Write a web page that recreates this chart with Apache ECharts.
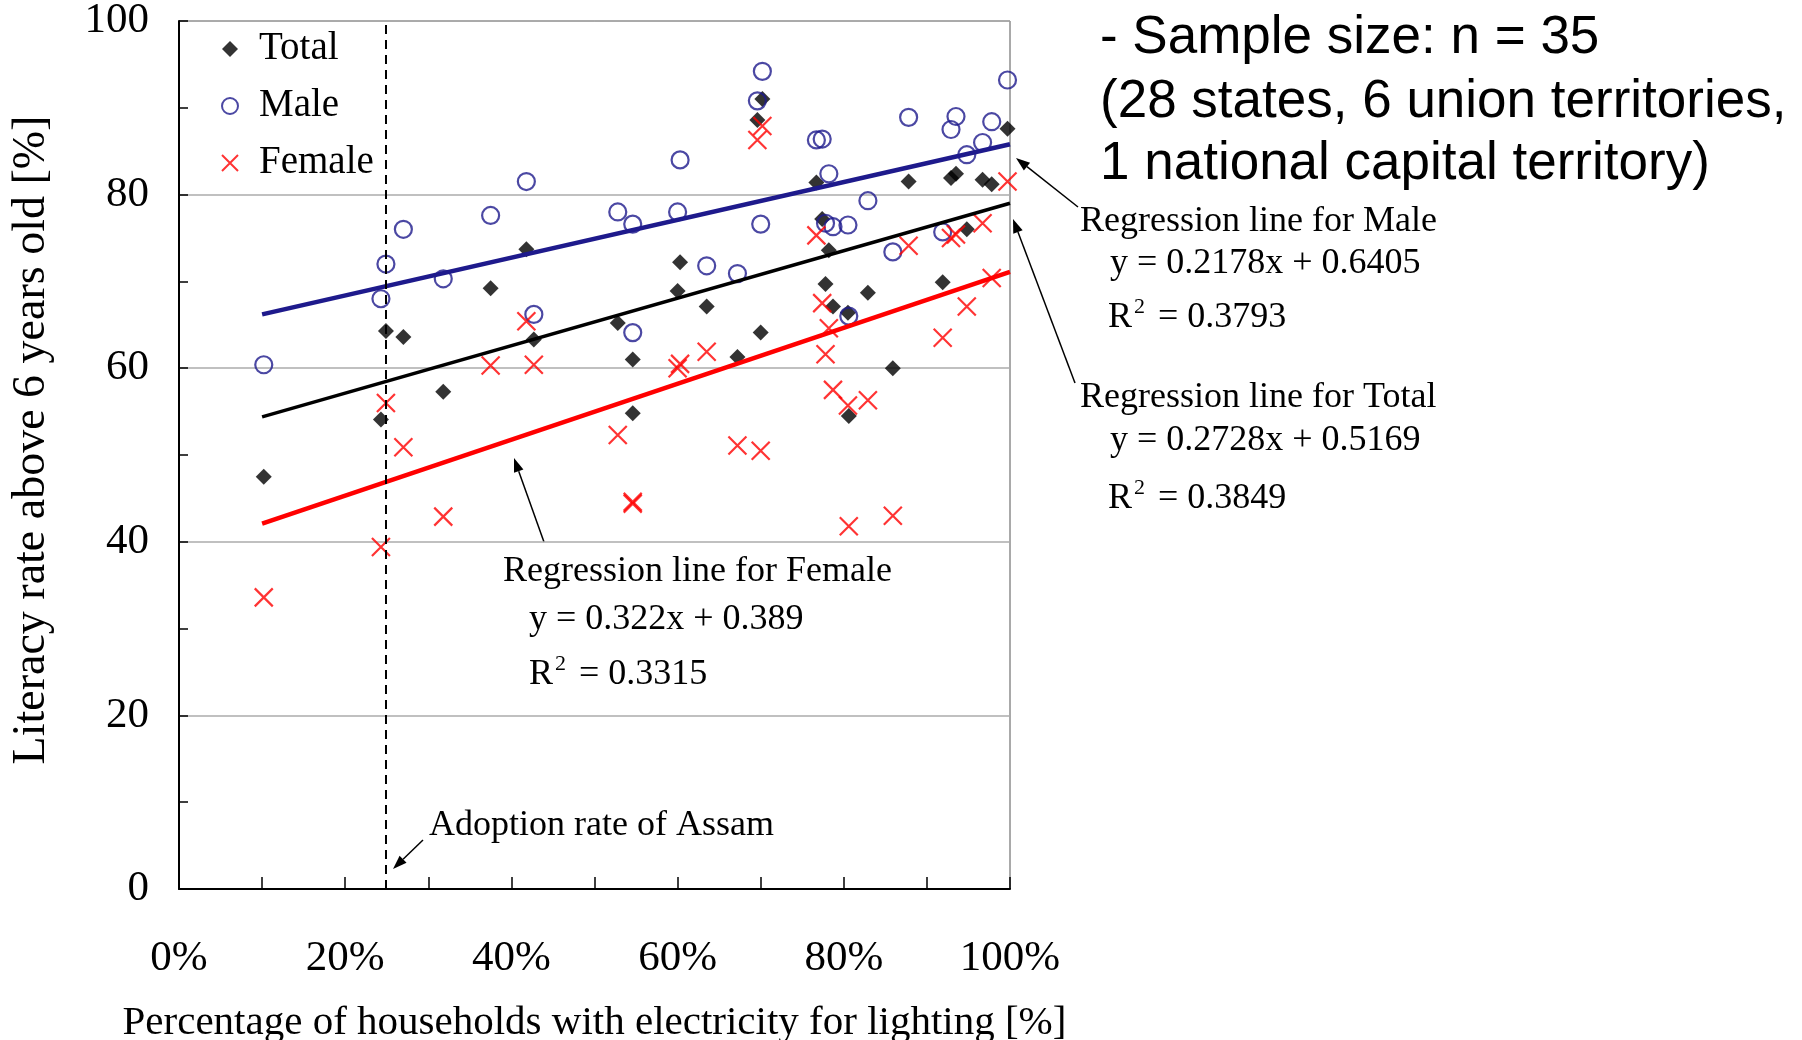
<!DOCTYPE html>
<html>
<head>
<meta charset="utf-8">
<script src="https://cdn.jsdelivr.net/npm/echarts@6/dist/echarts.min.js"></script>
<style>
  html, body { margin: 0; padding: 0; background: #fff; }
  #chart { width: 1802px; height: 1040px; }
</style>
</head>
<body>
<div id="chart"></div>
<script>
// electricity for lighting [%] per state / territory
const elec = [10.2, 24.3, 24.9, 27.0, 31.8, 37.5, 41.8, 42.7, 52.8, 54.6, 54.6, 60.0, 60.3, 63.5, 67.2, 69.6, 70.2, 70.0,
  76.7, 77.4, 77.8, 78.2, 78.7, 80.5, 80.6, 82.9, 85.9, 87.8, 91.9, 92.9, 93.5, 94.8, 96.7, 97.8, 99.7];
// literacy rate above 6 years old [%]
const total = [47.5, 54.1, 64.3, 63.6, 57.3, 69.2, 73.7, 63.3, 65.2, 61.0, 54.8, 68.9, 72.2, 67.1, 61.3, 88.6, 91.0, 64.1,
  81.4, 77.2, 69.7, 73.6, 67.1, 66.4, 54.5, 68.7, 60.0, 81.5, 69.9, 81.9, 82.4, 76.0, 81.7, 81.2, 87.6];
const male = [60.4, 68.0, 72.0, 76.0, 70.3, 77.6, 81.5, 66.2, 78.0, 76.6, 64.1, 78.0, 84.0, 71.8, 70.9, 90.8, 94.2, 76.6,
  86.3, 86.4, 76.7, 82.4, 76.3, 76.5, 66.0, 79.3, 73.4, 88.9, 75.7, 87.5, 89.0, 84.6, 86.0, 88.4, 93.2];
const female = [33.6, 39.4, 56.0, 50.9, 42.9, 60.3, 65.4, 60.4, 52.3, 44.4, 44.6, 60.0, 60.5, 61.9, 51.1, 86.3, 87.9, 50.5,
  75.3, 67.5, 61.6, 64.6, 57.5, 55.7, 41.8, 56.3, 43.0, 74.1, 63.5, 75.0, 75.4, 67.1, 76.7, 70.4, 81.5];

// regression line end points [x, y]
const maleFit = [[10, 66.2], [100, 85.8]];
const totalFit = [[10, 54.4], [100, 79.0]];
const femaleFit = [[10, 42.1], [100, 71.1]];
const assamX = 24.9;

const xTicks = ['0%', '20%', '40%', '60%', '80%', '100%'];

const pairs = ys => elec.map((x, i) => [x, ys[i]]);

const NAVY = '#1e1a8c';
const SERIF = 'Liberation Serif';
const SANS = 'Liberation Sans';

function arrow(x1, y1, x2, y2) {
  const a = Math.atan2(y2 - y1, x2 - x1);
  const L = 14, W = 5;
  const bx = x2 - L * Math.cos(a), by = y2 - L * Math.sin(a);
  const px = -Math.sin(a) * W, py = Math.cos(a) * W;
  return [
    { type: 'line', shape: { x1: x1, y1: y1, x2: bx, y2: by }, style: { stroke: '#000', lineWidth: 1.5 } },
    { type: 'polygon', shape: { points: [[x2, y2], [bx + px, by + py], [bx - px, by - py]] }, style: { fill: '#000' } }
  ];
}

function txt(text, x, y, size, family) {
  return { type: 'text', x: x, y: y,
    style: { text: text, fontSize: size, fontFamily: family || SERIF, fill: '#000', verticalAlign: 'middle', align: 'left' } };
}

function r2(val, x, y) {
  return { type: 'text', x: x, y: y,
    style: {
      text: '{r|R}{s|2}{r| = ' + val + '}',
      verticalAlign: 'middle', align: 'left',
      rich: {
        r: { fontSize: 36, fontFamily: SERIF, fill: '#000', lineHeight: 44 },
        s: { fontSize: 22, fontFamily: SERIF, fill: '#000', lineHeight: 22, verticalAlign: 'top', padding: [0, 4, 0, 2] }
      }
    } };
}

const chart = echarts.init(document.getElementById('chart'));

const option = {
  animation: false,
  backgroundColor: '#fff',
  grid: { left: 179, right: 792, top: 21, bottom: 151, show: true, borderColor: '#555', borderWidth: 1,
    outerBoundsMode: 'none', containLabel: false },
  legend: {
    data: ['Total', 'Male', 'Female'],
    orient: 'vertical', left: 216, top: 24,
    itemWidth: 16, itemHeight: 16, itemGap: 17,
    textStyle: { fontFamily: SERIF, fontSize: 39, color: '#000', lineHeight: 40, padding: [0, 0, 0, 16] }
  },
  xAxis: {
    type: 'value', min: 0, max: 100, interval: 20,
    name: 'Percentage of households with electricity for lighting [%]',
    nameLocation: 'middle', nameGap: 114,
    nameTextStyle: { fontFamily: SERIF, fontSize: 41, color: '#000' },
    axisLine: { show: true, lineStyle: { color: '#000', width: 2 } },
    axisTick: { show: true, inside: true, length: 12, lineStyle: { color: '#000', width: 1.5 } },
    minorTick: { show: true, splitNumber: 2, length: 12, lineStyle: { color: '#000', width: 1.5 } },
    axisLabel: { margin: 48, fontFamily: SERIF, fontSize: 43, color: '#000',
      formatter: v => xTicks[Math.round(v / 20)] },
    splitLine: { show: false }
  },
  yAxis: {
    type: 'value', min: 0, max: 100, interval: 20,
    name: 'Literacy rate above 6 years old [%]',
    nameLocation: 'middle', nameGap: 124, nameRotate: 90,
    nameTextStyle: { fontFamily: SERIF, fontSize: 46, color: '#000', padding: [0, 0, 0, 30] },
    axisLine: { show: true, lineStyle: { color: '#000', width: 2 } },
    axisTick: { show: true, inside: true, length: 9, lineStyle: { color: '#000', width: 1.5 } },
    minorTick: { show: true, splitNumber: 2, length: 9, lineStyle: { color: '#000', width: 1.5 } },
    axisLabel: { margin: 30, fontFamily: SERIF, fontSize: 43, color: '#000' },
    splitLine: { show: true, lineStyle: { color: '#ababab', width: 1.5 } }
  },
  series: [
    {
      name: 'Total', type: 'scatter', symbol: 'diamond', symbolSize: 16,
      itemStyle: { color: '#000' },
      data: pairs(total),
      z: 3,
      markLine: {
        silent: true, symbol: ['none', 'none'],
        label: { show: false },
        lineStyle: { color: '#000', type: [9, 6], width: 2 },
        data: [{ xAxis: assamX }]
      }
    },
    {
      name: 'Male', type: 'scatter', symbol: 'circle', symbolSize: 17,
      itemStyle: { color: 'rgba(255,255,255,0)', borderColor: NAVY, borderWidth: 2.2 },
      data: pairs(male), z: 3
    },
    {
      name: 'Female', type: 'scatter', symbol: 'path://M0,0L10,10M10,0L0,10', symbolSize: 18,
      itemStyle: { color: 'rgba(255,255,255,0)', borderColor: '#ff0000', borderWidth: 2.2 },
      data: pairs(female), z: 3
    },
    { type: 'line', data: maleFit, showSymbol: false, symbol: 'none', lineStyle: { color: NAVY, width: 4.5 }, z: 4, silent: true },
    { type: 'line', data: totalFit, showSymbol: false, symbol: 'none', lineStyle: { color: '#000', width: 3.5 }, z: 4, silent: true },
    { type: 'line', data: femaleFit, showSymbol: false, symbol: 'none', lineStyle: { color: '#ff0000', width: 4.5 }, z: 4, silent: true }
  ],
  graphic: [
    txt('- Sample size: n = 35', 1100, 38, 53, SANS),
    txt('(28 states, 6 union territories,', 1100, 102, 53, SANS),
    txt('1 national capital territory)', 1100, 164, 53, SANS),
    txt('Regression line for Male', 1080, 222, 36),
    txt('y = 0.2178x + 0.6405', 1110, 264, 36),
    r2('0.3793', 1108, 318),
    txt('Regression line for Total', 1080, 398, 36),
    txt('y = 0.2728x + 0.5169', 1110, 441, 36),
    r2('0.3849', 1108, 499),
    txt('Regression line for Female', 503, 572, 36),
    txt('y = 0.322x + 0.389', 529, 620, 36),
    r2('0.3315', 529, 675),
    txt('Adoption rate of Assam', 429, 826, 36)
  ].concat(
    arrow(1078, 207, 1016, 158),
    arrow(1075, 383, 1013, 219),
    arrow(544, 542, 514, 458),
    arrow(423, 840, 393, 869)
  )
};

chart.setOption(option);
</script>
</body>
</html>
